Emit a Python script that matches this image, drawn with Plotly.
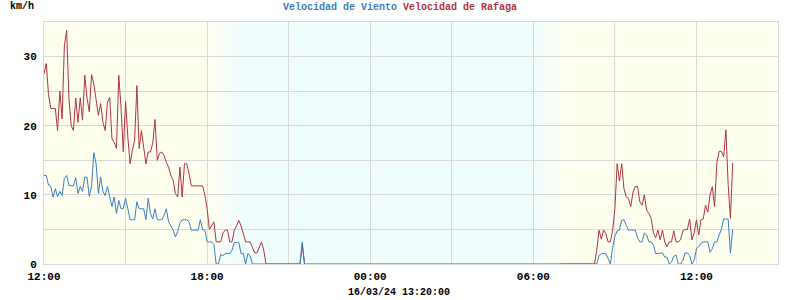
import pandas as pd
import plotly.graph_objects as go

# ---------------- data (5-minute samples, 15/03/24 12:00 -> 16/03/24 13:20) ----------------
start_time = "2024-03-15 12:00"
sample_minutes = 5

gust_kmh = [
    27.5, 29.0, 24.5, 22.5, 22.5, 22.5, 19.3, 25.0, 21.0, 31.6, 33.8, 24.0,
    20.0, 19.3, 24.0, 20.5, 24.0, 20.8, 27.3, 24.0, 22.0, 27.4, 26.0, 24.0,
    21.5, 23.2, 20.5, 19.3, 23.4, 24.1, 18.1, 17.6, 16.7, 27.3, 22.7, 16.2,
    23.5, 18.4, 14.5, 16.4, 17.9, 25.8, 16.7, 19.3, 16.7, 14.5, 16.2, 16.2,
    17.5, 20.9, 15.0, 16.0, 16.2, 15.7, 14.7, 14.0, 12.8, 12.1, 10.2, 9.7,
    14.0, 9.7, 14.5, 14.5, 13.1, 11.3, 11.3, 11.3, 11.3, 11.3, 11.3, 10.0,
    8.0, 5.0, 5.5, 6.1, 3.2, 3.2, 3.2, 4.5, 4.9, 4.9, 3.2, 3.2,
    4.9, 5.5, 6.3, 5.5, 4.2, 3.2, 3.2, 3.2, 2.4, 1.6, 1.6, 2.4,
    3.2, 2.0, 0, 0, 0, 0, 0, 0, 0, 0, 0, 0,
    0, 0, 0, 0, 0, 0, 2.8, 0, 0, 0, 0, 0,
    0, 0, 0, 0, 0, 0, 0, 0, 0, 0, 0, 0,
    0, 0, 0, 0, 0, 0, 0, 0, 0, 0, 0, 0,
    0, 0, 0, 0, 0, 0, 0, 0, 0, 0, 0, 0,
    0, 0, 0, 0, 0, 0, 0, 0, 0, 0, 0, 0,
    0, 0, 0, 0, 0, 0, 0, 0, 0, 0, 0, 0,
    0, 0, 0, 0, 0, 0, 0, 0, 0, 0, 0, 0,
    0, 0, 0, 0, 0, 0, 0, 0, 0, 0, 0, 0,
    0, 0, 0, 0, 0, 0, 0, 0, 0, 0, 0, 0,
    0, 0, 0, 0, 0, 0, 0, 0, 0, 0, 0, 0,
    0, 0, 0, 0, 0, 0, 0, 0, 0, 0, 0, 0,
    0, 0, 0, 0, 2.0, 4.9, 3.6, 4.9, 4.4, 3.2, 3.2, 4.9,
    8.0, 14.5, 12.0, 14.5, 10.9, 9.7, 9.5, 8.3, 10.4, 11.2, 11.2, 9.0,
    8.5, 10.0, 7.8, 7.3, 6.6, 4.5, 3.8, 4.9, 3.5, 4.9, 3.2, 2.5,
    3.2, 3.2, 4.8, 3.2, 3.2, 3.5, 4.8, 5.0, 5.0, 6.5, 3.5, 4.5,
    6.4, 4.2, 6.4, 6.5, 8.5, 7.5, 10.0, 11.2, 8.3, 14.6, 16.3, 16.3,
    15.5, 19.4, 11.5, 6.6, 14.6,
]

wind_kmh = [
    12.8, 12.8, 11.4, 11.2, 9.7, 10.9, 9.7, 10.5, 9.9, 12.4, 12.8, 11.4,
    11.3, 11.3, 12.5, 10.2, 11.2, 10.5, 12.6, 12.5, 9.8, 11.3, 16.1, 14.5,
    10.2, 12.6, 10.5, 9.9, 11.2, 9.7, 8.3, 9.7, 7.3, 9.2, 8.0, 8.0,
    9.5, 8.0, 6.4, 6.4, 6.4, 9.0, 8.0, 8.0, 8.0, 6.4, 9.5, 7.3,
    6.5, 8.0, 6.4, 6.4, 6.4, 7.0, 8.0, 6.1, 5.5, 4.9, 3.9, 4.7,
    5.9, 6.4, 6.4, 6.4, 6.1, 4.9, 4.9, 4.9, 4.9, 6.4, 5.0, 4.9,
    3.2, 3.2, 3.2, 2.8, 0, 0, 1.4, 1.2, 1.5, 1.5, 1.5, 2.0,
    3.1, 3.1, 3.1, 1.5, 1.5, 0, 1.5, 1.2, 0, 0, 0, 0,
    0, 0, 0, 0, 0, 0, 0, 0, 0, 0, 0, 0,
    0, 0, 0, 0, 0, 0, 3.2, 0, None, None, None, None,
    None, None, None, None, None, None, None, None, None, None, None, None,
    None, None, None, None, None, None, None, None, None, None, None, None,
    None, None, None, None, None, None, None, None, None, None, None, None,
    None, None, None, None, None, None, None, None, None, None, None, None,
    None, None, None, None, None, None, None, None, None, None, None, None,
    None, None, None, None, None, None, None, None, None, None, None, None,
    None, None, None, None, None, None, None, None, None, None, None, None,
    None, None, None, None, None, None, None, None, None, None, None, None,
    None, None, None, None, None, None, None, None, None, None, None, None,
    0, 0, 0, 0, 0, 0, 0, 0, 0, 0, 0, 0,
    0, 0, 0, 0, 0, 1.2, 1.5, 1.5, 1.5, 0.8, 0, 2.4,
    4.0, 4.8, 4.9, 6.3, 6.4, 5.6, 4.9, 4.9, 4.9, 4.9, 3.8, 3.2,
    3.2, 4.5, 4.2, 3.2, 3.2, 2.8, 1.5, 1.5, 1.6, 1.6, 1.0, 1.0,
    0, 0.3, 1.1, 1.3, 0, 0, 0.5, 1.6, 1.6, 1.2, 0, 0.5,
    2.2, 2.5, 3.0, 3.2, 3.2, 3.2, 1.7, 2.2, 3.2, 3.2, 4.2, 5.0,
    6.5, 6.5, 6.5, 1.6, 5.0,
]

series_names = ["Velocidad de Viento", "Velocidad de Rafaga"]
y_unit = "km/h"
x_title = "16/03/24 13:20:00"
sunset_start, sunset_end = "2024-03-15 18:00", "2024-03-15 19:15"
sunrise_start, sunrise_end = "2024-03-16 06:00", "2024-03-16 07:15"

times = pd.date_range(start_time, periods=len(gust_kmh), freq=f"{sample_minutes}min")

# ---------------- style ----------------
W, H = 800, 300
ML, MR, MT, MB = 44, 22, 22, 36
BLUE = "#3a7fc0"
RED = "#b2343c"
GRID = "#d9d9d9"
DAY = (255, 255, 240)
NIGHT = (239, 253, 253)
FONT = dict(family="Liberation Mono, DejaVu Sans Mono, monospace", size=10, color="#000000", weight="bold")

fig = go.Figure()
fig.add_trace(go.Scatter(x=times, y=gust_kmh, mode="lines", name=series_names[1],
                         line=dict(color=RED, width=1), connectgaps=False))
fig.add_trace(go.Scatter(x=times, y=wind_kmh, mode="lines", name=series_names[0],
                         line=dict(color=BLUE, width=1), connectgaps=False))

# day / night background with soft transitions
def mix(c1, c2, t):
    return "rgb(%d,%d,%d)" % tuple(round(a + (b - a) * t) for a, b in zip(c1, c2))

shapes = []
def gradient(t0, t1, c_from, c_to, n=15):
    a, b = pd.Timestamp(t0), pd.Timestamp(t1)
    step = (b - a) / n
    for k in range(n):
        shapes.append(dict(type="rect", xref="x", yref="paper", layer="below",
                           x0=a + step * k, x1=a + step * (k + 1) + pd.Timedelta(seconds=20),
                           y0=0, y1=1, line=dict(width=0),
                           fillcolor=mix(c_from, c_to, (k + 0.5) / n)))

gradient(sunset_start, sunset_end, DAY, NIGHT)
shapes.append(dict(type="rect", xref="x", yref="paper", layer="below",
                   x0=pd.Timestamp(sunset_end), x1=pd.Timestamp(sunrise_start),
                   y0=0, y1=1, line=dict(width=0), fillcolor=mix(NIGHT, NIGHT, 0)))
gradient(sunrise_start, sunrise_end, NIGHT, DAY)

pw = W - ML - MR
ph = H - MT - MB

fig.update_layout(
    width=W, height=H,
    margin=dict(l=ML, r=MR, t=MT, b=MB, pad=0),
    paper_bgcolor="white",
    plot_bgcolor=mix(DAY, DAY, 0),
    showlegend=False,
    font=FONT,
    shapes=shapes,
    title=dict(
        text=(f"<span style='color:{BLUE}'>{series_names[0]}</span> "
              f"<span style='color:{RED}'>{series_names[1]}</span>"),
        x=0.5, xref="container", xanchor="center",
        y=1 - 6.5 / H, yref="container", yanchor="middle",
        font=dict(family=FONT["family"], size=10, weight="bold"),
    ),
    xaxis=dict(
        type="date",
        range=["2024-03-15 12:00", "2024-03-16 15:00"],
        tick0="2024-03-15 12:00", dtick=6 * 3600 * 1000,
        tickformat="%H:%M",
        showgrid=True, gridcolor=GRID, gridwidth=1,
        minor=dict(dtick=3 * 3600 * 1000, tick0="2024-03-15 12:00", showgrid=True,
                   gridcolor=GRID, gridwidth=1),
        showline=True, mirror=True, linecolor=GRID, linewidth=1,
        zeroline=False, ticks="", ticklabelstandoff=2,
        tickfont=dict(family=FONT["family"], size=11, weight="bold", color="#000"),
        fixedrange=True,
    ),
    yaxis=dict(
        range=[0, 35], dtick=10, tick0=0,
        showgrid=True, gridcolor=GRID, gridwidth=1,
        minor=dict(dtick=5, showgrid=True, gridcolor=GRID, gridwidth=1),
        showline=True, mirror=True, linecolor=GRID, linewidth=1,
        zeroline=False, ticks="", ticklabelstandoff=4,
        tickfont=dict(family=FONT["family"], size=11, weight="bold", color="#000"),
        fixedrange=True,
    ),
    annotations=[
        dict(text=y_unit, xref="paper", yref="paper",
             x=(21.5 - ML) / pw, y=(H - MB - 6.5) / ph,
             xanchor="center", yanchor="middle", showarrow=False,
             font=dict(family=FONT["family"], size=10, weight="bold", color="#000")),
        dict(text=x_title, xref="paper", yref="paper",
             x=(399 - ML) / pw, y=-(292 - (H - MB)) / ph,
             xanchor="center", yanchor="middle", showarrow=False,
             font=dict(family=FONT["family"], size=10, weight="bold", color="#000")),
    ],
)

fig.write_html("out.html")
